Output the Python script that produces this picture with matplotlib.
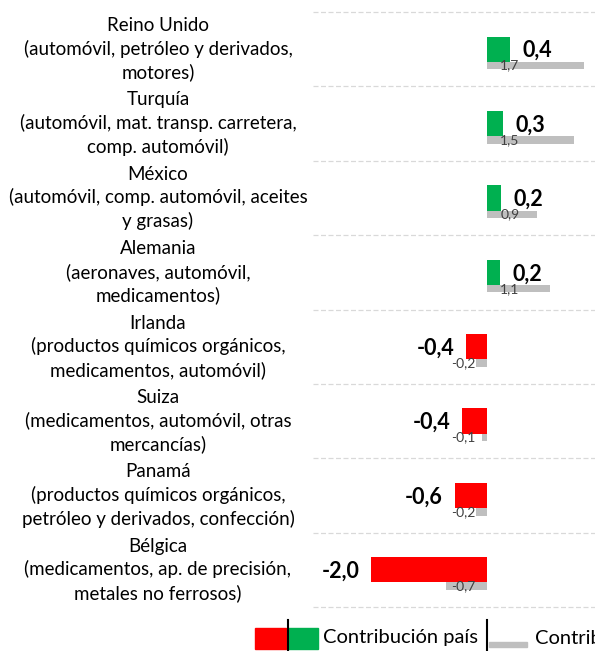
import matplotlib
matplotlib.use("Agg")
import matplotlib.pyplot as plt
from matplotlib.patches import Rectangle
from matplotlib.lines import Line2D
import matplotlib.transforms as mtransforms

plt.rcParams['font.family'] = ['Lato', 'DejaVu Sans']

categories = [
    "Reino Unido\n(automóvil, petróleo y derivados,\nmotores)",
    "Turquía\n(automóvil, mat. transp. carretera,\ncomp. automóvil)",
    "México\n(automóvil, comp. automóvil, aceites\ny grasas)",
    "Alemania\n(aeronaves, automóvil,\nmedicamentos)",
    "Irlanda\n(productos químicos orgánicos,\nmedicamentos, automóvil)",
    "Suiza\n(medicamentos, automóvil, otras\nmercancías)",
    "Panamá\n(productos químicos orgánicos,\npetróleo y derivados, confección)",
    "Bélgica\n(medicamentos, ap. de precisión,\nmetales no ferrosos)",
]
contrib_pais = [0.40, 0.28, 0.24, 0.22, -0.36, -0.43, -0.56, -2.00]
contrib_total = [1.67, 1.50, 0.86, 1.09, -0.19, -0.09, -0.19, -0.71]
legend_labels = ["Contribución país", "Contribución sectores"]

GREEN = "#00B050"
RED = "#FF0000"
GRAY = "#BFBFBF"

W, H = 595, 651
fig = plt.figure(figsize=(W / 100, H / 100), dpi=100)
ax = fig.add_axes([313 / W, 1 - 607 / H, (W - 313) / W, (607 - 12) / H])

n = len(categories)
ypos = list(range(n))
main_h = 0.34
gray_h = 0.10
gray_off = main_h / 2 + gray_h / 2

colors = [GREEN if v >= 0 else RED for v in contrib_pais]
ax.barh(ypos, contrib_pais, height=main_h, color=colors, zorder=2)
ax.barh([y + gray_off for y in ypos], contrib_total, height=gray_h, color=GRAY, zorder=2)

def fmt(v):
    return f"{v:.1f}".replace(".", ",")

for y, v in zip(ypos, contrib_pais):
    ax.annotate(fmt(v), (v, y + 0.02), xytext=(9 if v >= 0 else -8.5, 0), textcoords="offset points",
                ha="left" if v >= 0 else "right", va="center", fontsize=15.5,
                fontweight="bold", color="black", zorder=4)

for y, v in zip(ypos, contrib_total):
    ax.annotate(fmt(v), (0, y + gray_off), xytext=(9.5 if v >= 0 else -8.5, 0), textcoords="offset points",
                ha="left" if v >= 0 else "right", va="center", fontsize=10,
                color="#404040", zorder=4)

for k in range(n + 1):
    ax.axhline(k - 0.5, color="#D9D9D9", lw=0.9, ls=(0, (4, 2)), zorder=1, clip_on=False)

ax.set_xlim(-3.0, (W - 487) / 58)
ax.set_ylim(n - 0.5, -0.5)
ax.axis("off")

trans = mtransforms.blended_transform_factory(fig.transFigure, ax.transData)
for y, lab in zip(ypos, categories):
    ax.text(158 / W, y, lab, transform=trans, ha="center", va="center",
            multialignment="center", fontsize=13.5, color="#000000", linespacing=1.38)

# legend (drawn in figure pixel space)
lax = fig.add_axes([0, 0, 1, 1], facecolor="none")
lax.set_xlim(0, W)
lax.set_ylim(H, 0)
lax.axis("off")
lax.add_patch(Rectangle((255, 628), 31, 21, color=RED))
lax.add_patch(Rectangle((288, 628), 30, 21, color=GREEN))
lax.add_line(Line2D([288, 288], [620, 651], color="black", lw=1.5))
lax.text(323, 638, legend_labels[0], ha="left", va="center", fontsize=14.5)
lax.add_line(Line2D([487, 487], [620, 651], color="black", lw=1.5))
lax.add_patch(Rectangle((489, 642), 38, 5, color=GRAY))
lax.text(535, 638, legend_labels[1], ha="left", va="center", fontsize=14.5)

fig.savefig("out.png", dpi=100)
